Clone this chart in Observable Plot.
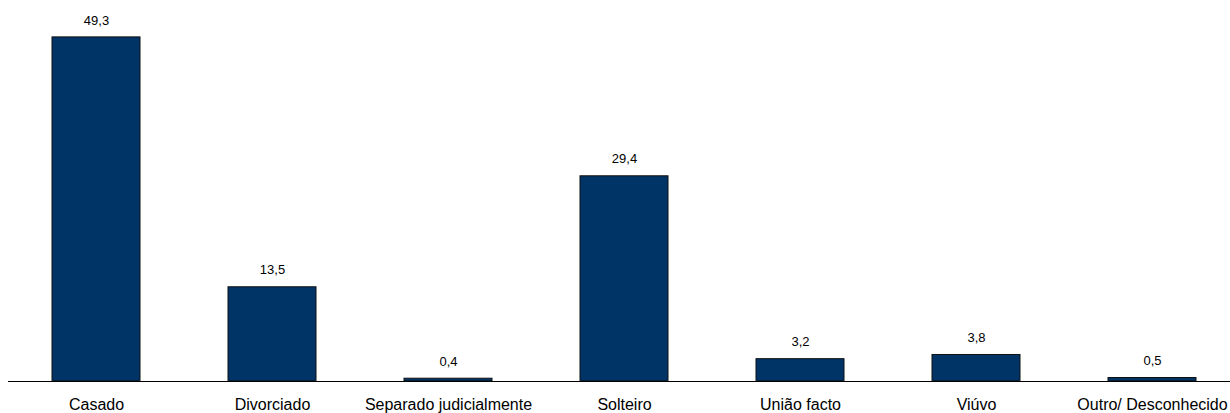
<!DOCTYPE html>
<html>
<head>
<meta charset="utf-8">
<script src="https://cdn.jsdelivr.net/npm/d3@7"></script>
<script src="https://cdn.jsdelivr.net/npm/@observablehq/plot@0.6"></script>
<style>
  html, body { margin: 0; padding: 0; background: #fff; overflow: hidden; }
</style>
</head>
<body>
<div id="chart"></div>
<script>
const categories = ["Casado", "Divorciado", "Separado judicialmente", "Solteiro", "União facto", "Viúvo", "Outro/ Desconhecido"];
const values = [49.3, 13.5, 0.4, 29.4, 3.2, 3.8, 0.5];

const data = categories.map((c, i) => ({category: c, value: values[i]}));
const fmt = v => v.toFixed(1).replace(".", ",");

const chart = Plot.plot({
  width: 1230,
  height: 413,
  marginTop: 32,
  marginBottom: 32,
  marginLeft: 8,
  marginRight: 0,
  style: {fontFamily: "'Liberation Sans', Arial, sans-serif", fontSize: "16px", color: "#000", background: "#fff", overflow: "visible"},
  x: {domain: categories, range: [8, 1240], paddingInner: 0.5, paddingOuter: 0.25, label: null},
  y: {domain: [0, 50], axis: null},
  marks: [
    Plot.barY(data, {x: "category", y: "value", fill: "#003366", stroke: "#111", strokeWidth: 1}),
    Plot.text(data, {x: "category", y: "value", text: d => fmt(d.value), dy: -17, fontSize: 13, fill: "#000"}),
    Plot.ruleY([0], {stroke: "#000", strokeWidth: 1}),
    Plot.axisX({tickSize: 0, tickPadding: 17, fontSize: 16, label: null})
  ]
});
document.getElementById("chart").appendChild(chart);
</script>
</body>
</html>
